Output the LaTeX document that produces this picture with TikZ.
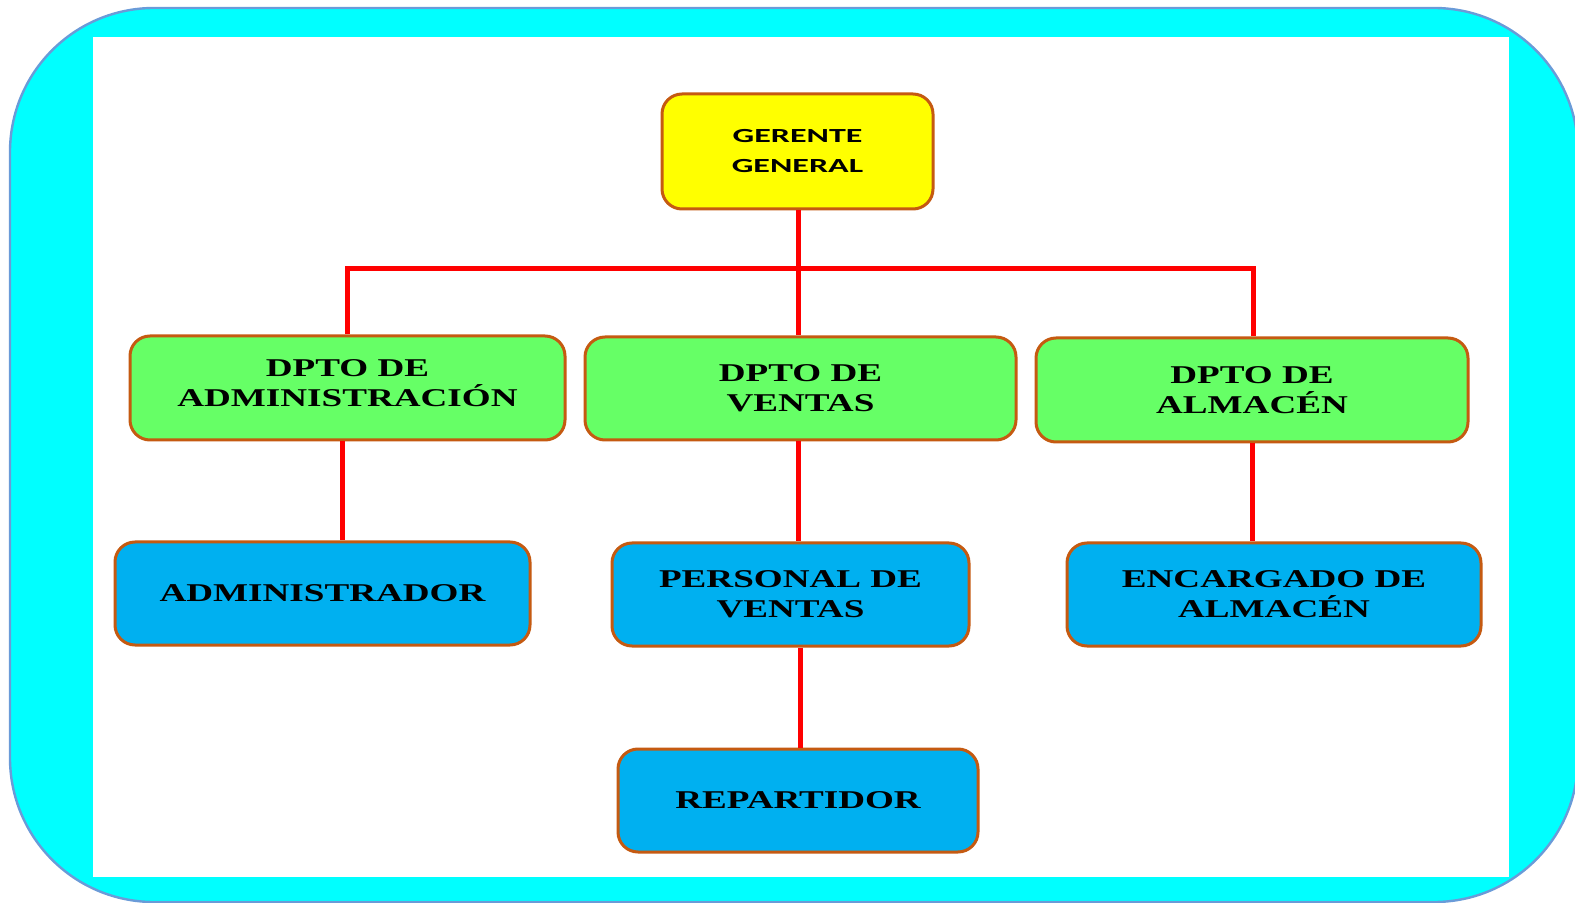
\documentclass[tikz,border=0pt]{standalone}
\usepackage{fontspec}
\newfontfamily\boxserif[FakeStretch=1.45]{Liberation Serif}
\newfontfamily\boxsans[FakeStretch=1.7]{Carlito}
\definecolor{cyanbg}{HTML}{00FFFF}
\definecolor{frameblue}{HTML}{6A9BD8}
\definecolor{boxline}{HTML}{C55A11}
\definecolor{topfill}{HTML}{FFFF00}
\definecolor{deptfill}{HTML}{66FF66}
\definecolor{stafffill}{HTML}{00B0F0}
\definecolor{linkred}{HTML}{FF0000}
\tikzset{
  x=0.5pt, y=-0.5pt,
  orgbox/.style={draw=boxline, line width=1.5pt, rounded corners=10pt, inner sep=0pt, align=center, text=black},
  topbox/.style={orgbox, fill=topfill, font=\boxsans\bfseries\fontsize{10}{15}\selectfont},
  deptbox/.style={orgbox, fill=deptfill, font=\boxserif\bfseries\fontsize{12.8}{15}\selectfont},
  staffbox/.style={orgbox, fill=stafffill, font=\boxserif\bfseries\fontsize{12.8}{15}\selectfont},
  link/.style={draw=linkred, line width=2.5pt}
}
\newcommand{\orgnode}[6]{%
  \node[#1, minimum width=#4*0.5pt-#2*0.5pt, minimum height=#5*0.5pt-#3*0.5pt] (#6) at ({(#2+#4)/2},{(#3+#5)/2})}
\begin{document}
\begin{tikzpicture}
\useasboundingbox (0,0) rectangle (1575,903);
\begin{scope}
\clip (0,0) rectangle (1575,903);
\draw[fill=cyanbg, draw=frameblue, line width=1.2pt, rounded corners=72pt] (10,8) rectangle (1578,902);
\fill[white] (93,37) rectangle (1509,877);
\end{scope}

\orgnode{topbox}{662}{94}{933}{209}{gg} {GERENTE\\GENERAL};
\orgnode{deptbox}{130}{336}{565}{440}{dadm} {DPTO DE\\ADMINISTRACIÓN\rule[-5pt]{0pt}{5pt}};
\orgnode{deptbox}{585}{337}{1016}{440}{dven} {DPTO DE\\VENTAS};
\orgnode{deptbox}{1036}{338}{1468}{442}{dalm} {DPTO DE\\ALMACÉN};
\orgnode{staffbox}{115}{542}{530}{645}{adm} {ADMINISTRADOR};
\orgnode{staffbox}{612}{543}{969}{646}{pven} {PERSONAL DE\\VENTAS};
\orgnode{staffbox}{1067}{543}{1481}{646}{enc} {ENCARGADO DE\\ALMACÉN};
\orgnode{staffbox}{618}{749}{978}{852}{rep} {REPARTIDOR};

\coordinate (bus) at (798,269);
\coordinate (busl) at (347,269);
\coordinate (busr) at (1253,269);
\draw[link] (gg.south -| bus) -- (bus);
\draw[link] (dadm.north -| busl) -- (busl) -- (busr) -- (dalm.north -| busr);
\draw[link] (bus) -- (dven.north -| bus);
\draw[link] ([xshift=-2.5pt]dadm.south) -- ([xshift=-2.5pt]dadm.south |- adm.north);
\draw[link] (dven.south -| 798,0) -- (pven.north -| 798,0);
\draw[link] (dalm.south) -- (dalm.south |- enc.north);
\draw[link] (pven.south -| 800,0) -- (rep.north -| 800,0);
\end{tikzpicture}
\end{document}
